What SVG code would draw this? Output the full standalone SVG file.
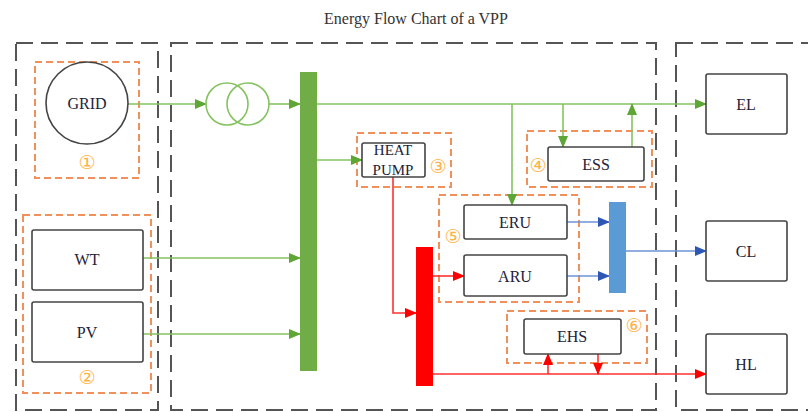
<svg xmlns="http://www.w3.org/2000/svg" width="808" height="412" viewBox="0 0 808 412">
<defs>
<style>
text.t{font-family:'Liberation Serif','DejaVu Serif',serif;fill:#22223a;text-anchor:middle}
text.num{font-family:'DejaVu Sans','Noto Sans CJK SC',sans-serif;fill:#FFB347;text-anchor:middle;font-size:19px}
.zone{fill:none;stroke:#555;stroke-width:2;stroke-dasharray:17 8}
.grp{fill:none;stroke:#F0905A;stroke-width:2;stroke-dasharray:7 4}
.box{fill:#fff;stroke:#444;stroke-width:1.6}
.g{fill:none;stroke:#86C261;stroke-width:1.6}
.b{fill:none;stroke:#6E93D6;stroke-width:1.6}
.r{fill:none;stroke:#FF3030;stroke-width:1.6}
</style>
<marker id="ag" markerWidth="12" markerHeight="10" refX="11" refY="5" orient="auto" markerUnits="userSpaceOnUse"><path d="M0,0 L12,5 L0,10 Z" fill="#5EA636"/></marker>
<marker id="ab" markerWidth="12" markerHeight="10" refX="11" refY="5" orient="auto" markerUnits="userSpaceOnUse"><path d="M0,0 L12,5 L0,10 Z" fill="#2E57B5"/></marker>
<marker id="ar" markerWidth="12" markerHeight="10" refX="11" refY="5" orient="auto" markerUnits="userSpaceOnUse"><path d="M0,0 L12,5 L0,10 Z" fill="#FF0000"/></marker>
</defs>
<rect width="808" height="412" fill="#fff"/>
<text x="416" y="24" class="t" font-family="Liberation Serif, serif" style="font-size:16px;fill:#333">Energy Flow Chart of a VPP</text>

<g id="zones">
<rect class="zone" x="16" y="43" width="142" height="367"/>
<rect class="zone" x="171" y="43" width="485" height="367"/>
<rect class="zone" x="676" y="43" width="140" height="367"/>
</g>

<g id="group1"><rect class="grp" x="35" y="62" width="104" height="116"/><text class="num" x="87" y="169">①</text></g>
<g id="group2"><rect class="grp" x="23" y="215" width="128" height="178"/><text class="num" x="87" y="384">②</text></g>
<g id="group3"><rect class="grp" x="357" y="133" width="94" height="54"/><text class="num" x="438" y="173">③</text></g>
<g id="group4"><rect class="grp" x="527" y="131" width="125" height="56"/><text class="num" x="538" y="172">④</text></g>
<g id="group5"><rect class="grp" x="439" y="195" width="140" height="107"/><text class="num" x="453" y="243">⑤</text></g>
<g id="group6"><rect class="grp" x="507" y="311" width="140" height="52"/><text class="num" x="634" y="332">⑥</text></g>

<g id="connectors">
<line class="g" x1="128" y1="104" x2="206" y2="104" marker-end="url(#ag)"/>
<line class="g" x1="269" y1="104" x2="300" y2="104" marker-end="url(#ag)"/>
<line class="g" x1="317" y1="104" x2="706" y2="104" marker-end="url(#ag)"/>
<line class="g" x1="512" y1="104" x2="512" y2="205" marker-end="url(#ag)"/>
<line class="g" x1="563" y1="104" x2="563" y2="147" marker-end="url(#ag)"/>
<line class="g" x1="632" y1="147" x2="632" y2="104" marker-end="url(#ag)"/>
<line class="g" x1="317" y1="160" x2="362" y2="160" marker-end="url(#ag)"/>
<line class="g" x1="143" y1="258" x2="300" y2="258" marker-end="url(#ag)"/>
<line class="g" x1="143" y1="334" x2="300" y2="334" marker-end="url(#ag)"/>
<path class="r" d="M393,177 V313 H416" marker-end="url(#ar)"/>
<line class="r" x1="433" y1="276" x2="464" y2="276" marker-end="url(#ar)"/>
<line class="r" x1="433" y1="374" x2="706" y2="374" marker-end="url(#ar)"/>
<line class="r" x1="548" y1="374" x2="548" y2="354" marker-end="url(#ar)"/>
<line class="r" x1="598" y1="354" x2="598" y2="374" marker-end="url(#ar)"/>
<line class="b" x1="567" y1="222" x2="609" y2="222" marker-end="url(#ab)"/>
<line class="b" x1="567" y1="276" x2="609" y2="276" marker-end="url(#ab)"/>
<line class="b" x1="626" y1="251" x2="706" y2="251" marker-end="url(#ab)"/>
</g>

<g id="grid"><circle cx="87" cy="103" r="41" fill="#fff" stroke="#444" stroke-width="1.6"/><text class="t" x="87" y="109" style="font-size:16px">GRID</text></g>
<g id="transformer"><circle cx="227" cy="104" r="21" fill="none" stroke="#86C261" stroke-width="1.6"/><circle cx="248" cy="104" r="21" fill="none" stroke="#86C261" stroke-width="1.6"/></g>
<g id="ebus"><rect x="300" y="72" width="17" height="299" fill="#70AD47"/></g>
<g id="hbus"><rect x="416" y="247" width="17" height="139" fill="#FF0000"/></g>
<g id="cbus"><rect x="609" y="202" width="17" height="91" fill="#5B9BD5"/></g>
<g id="wt"><rect class="box" x="32" y="230" width="111" height="60" rx="2"/><text class="t" x="87" y="265" style="font-size:16px">WT</text></g>
<g id="pv"><rect class="box" x="32" y="302" width="111" height="60" rx="2"/><text class="t" x="87" y="338" style="font-size:16px">PV</text></g>
<g id="heatpump"><rect class="box" x="362" y="143" width="63" height="34" rx="2"/><text class="t" x="393" y="155" style="font-size:15px">HEAT</text><text class="t" x="393" y="175" style="font-size:15px">PUMP</text></g>
<g id="ess"><rect class="box" x="548" y="147" width="96" height="34" rx="2"/><text class="t" x="596" y="170" style="font-size:16px">ESS</text></g>
<g id="eru"><rect class="box" x="464" y="205" width="103" height="34" rx="2"/><text class="t" x="515" y="228" style="font-size:16px">ERU</text></g>
<g id="aru"><rect class="box" x="464" y="255" width="103" height="41" rx="2"/><text class="t" x="515" y="282" style="font-size:16px">ARU</text></g>
<g id="ehs"><rect class="box" x="524" y="319" width="97" height="35" rx="2"/><text class="t" x="572" y="342" style="font-size:16px">EHS</text></g>
<g id="el"><rect class="box" x="706" y="74" width="81" height="60" rx="2"/><text class="t" x="746" y="110" style="font-size:16px">EL</text></g>
<g id="cl"><rect class="box" x="706" y="221" width="81" height="60" rx="2"/><text class="t" x="746" y="257" style="font-size:16px">CL</text></g>
<g id="hl"><rect class="box" x="706" y="334" width="81" height="60" rx="2"/><text class="t" x="746" y="370" style="font-size:16px">HL</text></g>
</svg>
